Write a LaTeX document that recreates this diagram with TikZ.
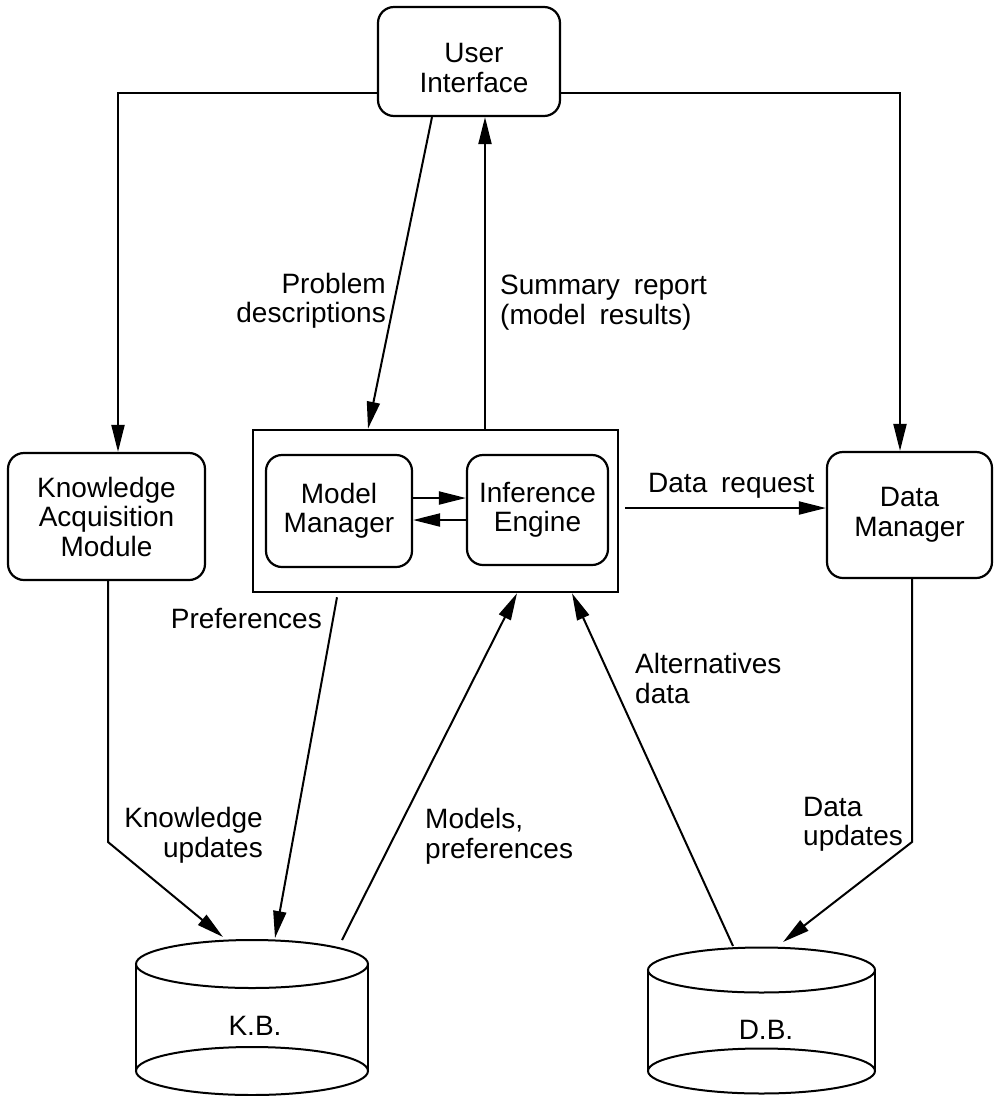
\documentclass[tikz,border=0pt]{standalone}
\usepackage{fontspec}
\setmainfont{Liberation Sans}
\usetikzlibrary{arrows.meta,calc}
\begin{document}
\begin{tikzpicture}[x=1pt,y=-1pt,
  every node/.style={font=\fontsize{28}{29.5}\selectfont, inner sep=0pt},
  box/.style={draw, line width=2.2pt, rounded corners=16pt, align=center},
  ln/.style={line width=2pt},
  arr/.style={ln, -{Triangle[length=27pt,width=13pt]}},
  lblr/.style={align=right},
  lbll/.style={align=left}]
\useasboundingbox (0,0) rectangle (994,1096);

% boxes
\node[box, minimum width=182pt, minimum height=109pt] (UI) at (469,61.5) {};
\node (UIt) at (474,68) [align=center] {User\\Interface};
\node[box, minimum width=197pt, minimum height=127pt] (KAM) at (106.5,516.5) {Knowledge\\Acquisition\\Module};
\node[box, minimum width=165pt, minimum height=126pt] (DM) at (909.5,515) {Data\\Manager};
\node[draw, line width=2.5pt, minimum width=365pt, minimum height=162pt] (SYS) at (435.5,511) {};
\node[box, minimum width=146pt, minimum height=112pt] (MM) at (339,511) {Model\\Manager};
\node[box, minimum width=141pt, minimum height=110pt] (IE) at (537.5,510) {Inference\\Engine};

% cylinders
\node (KB) at (255,1026) {K.B.};
\draw[ln] (252,964) ellipse [x radius=116pt, y radius=24pt];
\draw[ln] (136,964) -- (136,1071) (368,964) -- (368,1071);
\draw[ln] (252,1071) ellipse [x radius=116pt, y radius=24pt];
\node (DB) at (766,1030) {D.B.};
\draw[ln] (761.5,970) ellipse [x radius=113.5pt, y radius=22.5pt];
\draw[ln] (648,970) -- (648,1071) (875,970) -- (875,1071);
\draw[ln] (761.5,1071) ellipse [x radius=113.5pt, y radius=22.5pt];

% helper coordinates
\coordinate (ytop) at (0,93);
\coordinate (ybend) at (0,842);
\coordinate (xk) at (118,0);
\coordinate (xd) at (900,0);
\coordinate (xkd) at (108,0);
\coordinate (xdd) at (912,0);
\coordinate (xp1) at (432,0);
\coordinate (xp2) at (368,0);
\coordinate (xs) at (485,0);
\coordinate (ya1) at (0,498);
\coordinate (ya2) at (0,520);
\coordinate (ydr) at (0,508);
\coordinate (xpref) at (337,0);
\coordinate (xmod) at (517,0);
\coordinate (xalt) at (572,0);
\coordinate (KBin1) at (223,937);
\coordinate (KBin2) at (275,938);
\coordinate (KBout) at (342,940);
\coordinate (DBin) at (783,942);
\coordinate (DBout) at (733,946);

% connectors
\draw[arr] (UI.west |- ytop) -| (xk |- KAM.north);
\draw[arr] (UI.east |- ytop) -| (xd |- DM.north);
\draw[arr] (xkd |- KAM.south) -- (xkd |- ybend) -- (KBin1);
\draw[arr] (xdd |- DM.south) -- (xdd |- ybend) -- (DBin);
\draw[arr] (xp1 |- UI.south) -- (xp2 |- SYS.north);
\draw[arr] (xs |- SYS.north) -- (xs |- UI.south);
\draw[arr] (MM.east |- ya1) -- (IE.west |- ya1);
\draw[arr] (IE.west |- ya2) -- (MM.east |- ya2);
\draw[arr] ($(SYS.east |- ydr)+(6,0)$) -- (DM.west |- ydr);
\draw[arr] ($(xpref |- SYS.south)+(0,4)$) -- (KBin2);
\draw[arr] (KBout) -- (xmod |- SYS.south);
\draw[arr] (DBout) -- (xalt |- SYS.south);

% labels
\node[lblr, anchor=north east] (lprob) at (386,273) {Problem\\descriptions};
\node[lbll, anchor=north west] (lsum) at (500,275) {Summary\hspace{6pt} report\\(model\hspace{6pt} results)};
\node[anchor=north west] (ldr) at (648,473) {Data\hspace{6pt} request};
\node[lblr, anchor=north east] (lpref) at (322,608) {Preferences};
\node[lblr, anchor=north east] (lku) at (263,807) {Knowledge\\updates};
\node[lbll, anchor=north west] (lmp) at (425,808) {Models,\\preferences};
\node[lbll, anchor=north west] (lalt) at (635,653) {Alternatives\\data};
\node[lbll, anchor=north west] (ldu) at (803,797) {Data\\updates};
\end{tikzpicture}
\end{document}
